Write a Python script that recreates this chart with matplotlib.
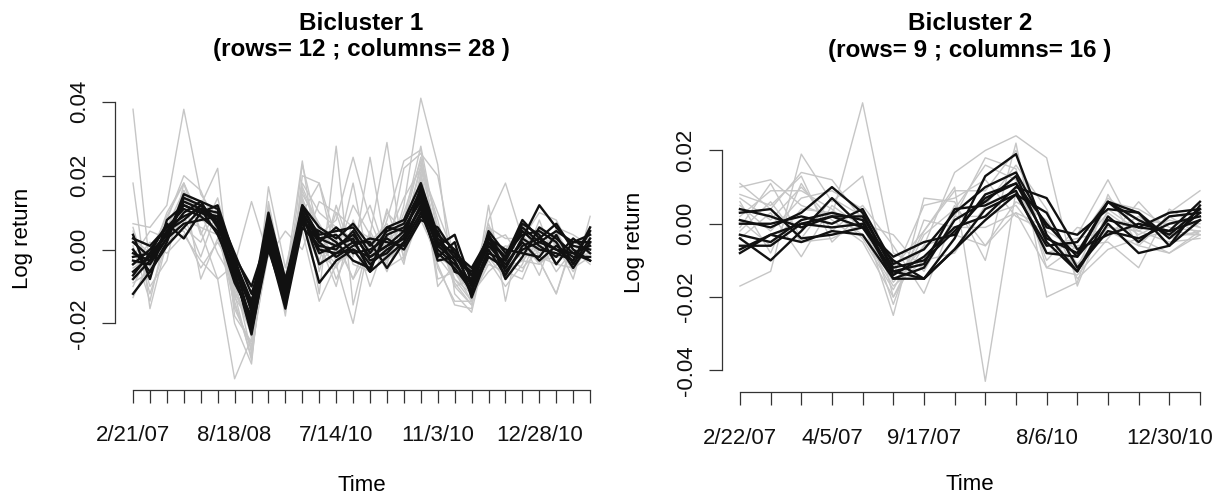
import matplotlib
matplotlib.use("Agg")
import matplotlib.pyplot as plt
import numpy as np

plt.rcParams['font.family'] = ['Liberation Sans', 'DejaVu Sans']

# log returns, in units of 1e-3 (per mille)
# bicluster 1: 12 rows in the bicluster (black), other rows (gray), 28 columns
b1_black = [
    [-12, -6, 2, 14, 12, 8, -4, -20, 4, -13, 10, 3, 1, 4, -2, 1, 5, 14, 2, -1, -10, 4, -3, 6, 2, 0, -3, 6],
    [-8, -3, 5, 12, 10, 9, -2, -17, 7, -12, 12, 6, 3, 7, 1, 6, 8, 18, 4, 0, -7, 2, -5, 3, 12, 6, 1, 0],
    [-6, -2, 4, 10, 13, 11, -6, -23, 2, -15, 9, 0, -1, 2, -4, 0, 3, 12, 1, -3, -12, 5, -1, 4, 5, 2, -5, 2],
    [-4, 0, 6, 9, 11, 7, -8, -19, 9, -10, 8, -9, -3, 0, -6, -2, 2, 10, -1, -5, -11, 0, -7, 1, 3, 7, 0, -3],
    [-3, -4, 3, 15, 13, 6, -3, -14, 5, -14, 11, 4, 5, 6, -1, 5, 7, 16, 3, -2, -6, 3, -2, 7, 4, -4, 2, 4],
    [-2, -1, 7, 3, 10, 8, -5, -16, 6, -11, 7, 5, 2, -3, -5, 4, 6, 13, 0, -4, -9, 1, -4, 2, -3, 1, -2, -2],
    [0, -6, 1, 6, 11, 10, -1, -12, 3, -13, 10, 2, -2, 1, 3, 2, 1, 9, 5, -6, -8, 4, -8, -2, 6, 3, -1, 1],
    [2, -2, 5, 8, 12, 7, -7, -21, 1, -16, 6, 1, 0, 5, -3, -1, 4, 11, -2, 2, -13, -1, -3, 5, 1, -2, 3, -1],
    [3, 1, 6, 11, 9, 5, -9, -18, 8, -9, 12, 3, 4, -1, 0, 3, 0, 8, 6, -1, -5, 3, 0, -1, -2, 4, -4, 3],
    [4, -8, 8, 12, 10, 12, -2, -10, 4, -12, 9, -1, 1, 3, -6, 6, 5, 15, 1, 4, -9, 2, -2, 8, 3, 0, -1, -3],
    [-1, -3, 3, 7, 8, 9, -4, -15, 10, -8, 8, 2, 6, 2, 2, -5, 2, 12, -3, -2, -7, 4, -6, 0, 2, 5, 2, 2],
    [-7, -1, 4, 13, 11, 4, -6, -22, 0, -14, 10, -4, -1, 0, -2, 1, 3, 17, 2, -3, -11, -2, -5, 3, 0, -1, -3, 5],
]
b1_gray = [
    [38, -5, 4, 8, 6, 4, -12, -30, 8, -14, 17, 6, -8, 2, -4, 10, 5, 22, 3, -6, -14, 6, -3, 2, -4, 0, -2, 4],
    [18, -16, 2, 10, 12, 22, -18, -25, 3, -8, 24, -6, 12, -2, 25, -1, 8, 28, 4, -10, -15, 8, 18, 3, -3, -12, 2, 0],
    [7, 6, 12, 38, 15, 8, -20, -31, 13, -10, 10, 18, 3, -8, 5, -4, 12, 41, 23, -12, -17, 3, -4, -6, 5, 2, -8, 9],
    [6, -10, -3, 18, 5, -8, -35, -24, 17, -5, 14, -12, 28, -15, 4, 29, -3, 10, -4, -15, -16, 12, -14, 7, 0, 3, -5, -2],
    [-5, -2, 8, 20, 16, 5, -15, -27, 6, -18, 20, 18, -2, 18, -6, 8, 24, 27, -2, -8, -14, -2, -8, 2, -7, 6, 4, 1],
    [-10, 0, 6, 16, -8, 3, -8, -28, 1, -11, 5, -14, -4, -20, 3, -5, -2, 20, -10, -4, -9, 4, -6, -3, 2, -6, 0, -4],
    [-13, -3, 10, 18, 8, 10, -12, -19, 12, -16, 18, 10, 6, 3, 12, -2, 22, 26, 20, -4, -12, -3, -10, -4, 8, -4, 2, 3],
    [-2, 5, 3, 6, 2, 12, -16, -26, -1, -7, 14, 2, -10, 8, -2, 4, 0, 15, -5, -14, -14, 2, 4, -3, -4, 2, -6, 2],
    [0, -8, 4, 12, 10, 7, -10, -22, 4, -13, 23, 4, 8, 25, 8, -3, 10, 24, 2, -6, -11, 6, 3, 3, 10, 8, -1, 5],
    [5, -12, 2, 14, 9, 8, -13, -20, 10, -14, 12, -1, -5, 5, -10, 3, 14, 22, 10, -2, -13, -4, -6, -8, 3, -2, -2, -1],
    [-6, -4, 5, 5, -5, 2, -6, -20, 7, -10, 8, -4, 2, -8, 0, -2, 4, 23, 8, -10, -8, 7, -5, 0, -3, -12, 3, 0],
    [3, -1, 9, 18, 4, 14, -5, -24, 11, -9, 11, 1, -4, 0, 2, 7, -4, 19, -8, -6, -12, -1, 0, 6, -2, -4, -5, 2],
    [-9, -6, 1, 9, -2, 11, -14, -29, 5, -17, 15, 7, -1, 12, 4, -6, 6, 18, 4, -9, -15, 3, -5, -1, 6, 1, -1, -3],
    [1, -14, 6, 14, 10, -1, -9, -18, 9, -12, 13, -3, 10, -4, -6, 11, -2, 21, -3, -2, -10, 5, -7, 4, -1, 5, -3, 3],
    [-4, -3, 3, 16, 8, 6, -11, -23, 3, -11, 16, 5, -3, 4, -1, 2, 7, 25, 6, -8, -12, -6, -2, -5, 0, -1, 1, -1],
    [-4, 2, -1, 4, -3, -8, -4, 13, -2, 5, 0, 13, 10, 6, 3, -3, 2, 8, -2, -5, -6, -2, 1, 0, -3, -2, 0, -2],
]
b1_ticklabels = {0: '2/21/07', 6: '8/18/08', 12: '7/14/10', 18: '11/3/10', 24: '12/28/10'}
b1_yticks = [-0.02, 0.00, 0.02, 0.04]

# bicluster 2: 9 rows, 16 columns
b2_black = [
    [4, 2, -1, 2, 2, -12, -10, -2, 7, 11, 0, -9, 6, 1, -3, 4],
    [3, 4, -4, -3, -1, -10, -15, -7, 4, 8, 3, -12, -2, -4, 0, 2],
    [1, -1, 3, 10, 3, -13, -15, -4, 13, 19, -3, -13, 0, -8, -6, 5],
    [0, 0, 2, 0, 4, -11, -7, 3, 10, 14, -1, -3, 4, 3, -4, 3],
    [-3, -5, 1, 3, 1, -14, -9, -1, 2, 10, 7, -7, -3, 0, -2, 1],
    [-4, -10, -2, 7, -1, -9, -5, -3, 8, 11, -4, -8, 6, -1, 3, 4],
    [-6, -6, 0, -1, 0, -15, -12, 1, 6, 13, -5, -13, 2, -5, 2, 3],
    [-7, -3, -5, -2, -3, -15, -15, -7, 1, 8, -6, -5, 6, 3, -6, 1],
    [-8, -3, 0, 2, -1, -13, -11, 4, 5, 9, -8, -9, 1, -1, -2, 6],
]
b2_gray = [
    [10, 12, 5, 2, 33, -8, -12, 5, -6, 3, -1, -3, 12, -4, -2, -3],
    [-17, -13, 19, 6, 13, -20, -6, 14, 20, 24, 18, -17, 4, -2, 3, 9],
    [11, 4, 14, 12, 1, -25, 7, 6, -10, 22, -20, -16, 8, -6, -8, -3],
    [6, -8, 11, -2, 5, -6, -19, 2, 18, 15, -12, -6, -5, -12, 4, -1],
    [2, 9, 9, 4, -4, -18, -2, 10, -43, 9, -3, -12, 6, 4, -1, -2],
    [-4, 3, -9, 5, -1, -16, -6, -3, -6, 6, 1, -11, -1, -2, -5, -4],
    [7, 1, 10, 1, -5, -20, -3, 4, 16, 12, -10, -1, -3, 2, -4, -2],
    [-1, 11, -4, 7, 2, -14, 5, 7, 12, 2, -2, -7, 3, -3, 1, -1],
    [8, 5, 13, -5, 3, -22, 1, -1, -1, 3, -12, -14, -4, 6, -3, -3],
    [1, -6, 4, 3, -3, -17, -10, -8, 5, 16, 4, -15, -7, -4, -8, -2],
    [5, -2, 7, 9, 4, -12, -2, 9, 9, 20, -8, -5, 7, 1, 0, 0],
    [-2, 6, -5, -4, 0, -3, -13, 2, 2, 5, -6, -4, -2, -6, 2, -3],
]
b2_ticklabels = {0: '2/22/07', 3: '4/5/07', 6: '9/17/07', 10: '8/6/10', 14: '12/30/10'}
b2_yticks = [-0.04, -0.02, 0.00, 0.02]

titles = ['Bicluster 1\n(rows= 12 ; columns= 28 )', 'Bicluster 2\n(rows= 9 ; columns= 16 )']

AX = '#333333'
FS = 16

fig = plt.figure(figsize=(12.18, 4.96), dpi=100)
ax1 = fig.add_axes([0.0942, 0.2137, 0.4053, 0.611])
ax2 = fig.add_axes([0.5924, 0.2087, 0.4079, 0.6065])


def panel(ax, black, gray, ticklabels, yticks, title, tpad, ylab_x, xlab_y):
    black = np.array(black) / 1000.0
    gray = np.array(gray) / 1000.0
    n = black.shape[1]
    x = np.arange(n)
    for row in gray:
        ax.plot(x, row, color='#c6c6c6', lw=1.0, zorder=1)
    for row in black:
        ax.plot(x, row, color='#111111', lw=1.7, zorder=2)
    ax.margins(x=0.04, y=0.04)

    ax.set_xticks(x)
    ax.set_xticklabels([ticklabels.get(i, '') for i in x], fontsize=FS)
    ax.set_yticks(yticks)
    ax.set_yticklabels(['%.2f' % v for v in yticks], fontsize=FS,
                       rotation=90, va='center')
    for s in ['top', 'right']:
        ax.spines[s].set_visible(False)
    ax.spines['left'].set_bounds(yticks[0], yticks[-1])
    ax.spines['bottom'].set_bounds(0, n - 1)
    for s in ['left', 'bottom']:
        ax.spines[s].set_color(AX)
        ax.spines[s].set_linewidth(0.9)
    ax.tick_params(axis='x', length=9.5, width=0.9, color=AX, pad=16, labelcolor='#111111')
    ax.tick_params(axis='y', length=9.5, width=0.9, color=AX, pad=8.5, labelcolor='#111111')

    ax.set_title(title, fontsize=17.5, fontweight='bold', pad=tpad, linespacing=1.2)
    ax.set_ylabel('Log return', fontsize=FS)
    ax.yaxis.set_label_coords(ylab_x, 0.5)
    ax.set_xlabel('Time', fontsize=FS)
    ax.xaxis.set_label_coords(0.5, xlab_y)


panel(ax1, b1_black, b1_gray, b1_ticklabels, b1_yticks, titles[0], 22, -0.1655, -0.28)
panel(ax2, b2_black, b2_gray, b2_ticklabels, b2_yticks, titles[1], 25, -0.154, -0.272)

fig.savefig('out.png', dpi=100)
